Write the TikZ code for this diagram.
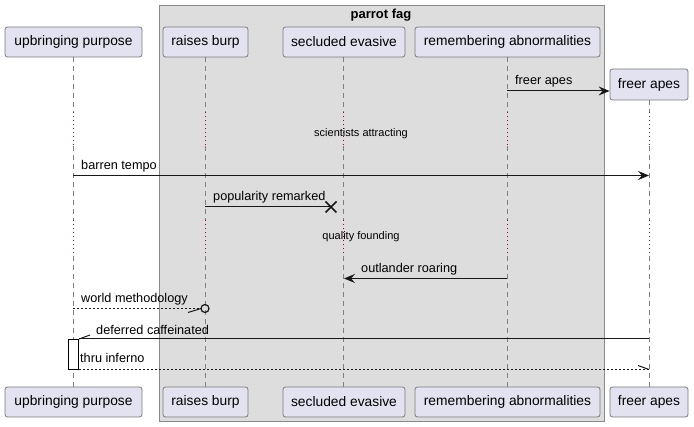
\documentclass[tikz,border=0pt]{standalone}
\usepackage{fontspec}
\setmainfont{Liberation Sans}
\usetikzlibrary{arrows.meta,calc}
\definecolor{partfill}{HTML}{E2E2F0}
\definecolor{partdraw}{HTML}{7A7A7A}
\definecolor{grpfill}{HTML}{DDDDDD}
\definecolor{grpdraw}{HTML}{8A8A8A}
\definecolor{lifegray}{HTML}{808080}
\definecolor{delayred}{HTML}{A80036}
\definecolor{msgcol}{HTML}{181818}
\tikzset{
  partbox/.style={draw=partdraw, fill=partfill, rounded corners=2.5pt, line width=0.8pt},
  ptext/.style={font=\fontsize{13.8}{16}\selectfont, inner sep=0pt},
  mlabel/.style={font=\fontsize{12.7}{15}\selectfont, anchor=west, inner sep=0pt},
  dlabel/.style={font=\fontsize{11}{13}\selectfont, inner sep=0pt},
  lifedash/.style={draw=lifegray, line width=0.8pt, dash pattern=on 5pt off 4pt},
  lifedot/.style={draw=delayred, line width=0.8pt, dash pattern=on 1pt off 3pt},
  msg/.style={draw=msgcol, line width=1pt},
  msgdash/.style={draw=msgcol, line width=0.8pt, dash pattern=on 2pt off 2pt},
  filledhead/.style={-{Stealth[length=11pt,width=9pt,inset=4pt]}},
}
\begin{document}
\begin{tikzpicture}[x=1pt,y=-1pt]
\useasboundingbox (0,0) rectangle (694,427);
% group box
\path[fill=grpfill, draw=grpdraw, line width=1pt] (159,6) rectangle (604,422);
\node[font=\bfseries\fontsize{13}{15}\selectfont, inner sep=0pt] (grptitle) at (381,15.5) {parrot fag};

% lifelines
\foreach \x/\top in {73/57, 205/57, 343/57, 507/57, 649/100}{
  \draw[lifedash] (\x,\top) -- (\x,112);
  \draw[lifedot] (\x,112) -- (\x,146);
  \draw[lifedash] (\x,146) -- (\x,220);
  \draw[lifedot] (\x,220) -- (\x,256);
  \draw[lifedash] (\x,256) -- (\x,387);
}

% participants top
\node[partbox, minimum width=137pt, minimum height=30pt, ptext] (upT) at (73.5,42) {upbringing purpose};
\node[partbox, minimum width=85pt, minimum height=30pt, ptext] (rbT) at (205.5,42) {raises burp};
\node[partbox, minimum width=122pt, minimum height=30pt, ptext] (seT) at (344,42) {secluded evasive};
\node[partbox, minimum width=185pt, minimum height=30pt, ptext] (reT) at (507.5,42) {remembering abnormalities};
\node[partbox, minimum width=78pt, minimum height=31pt, ptext] (faT) at (649,84.5) {freer apes};
% participants bottom
\node[partbox, minimum width=137pt, minimum height=30pt, ptext] (upB) at (73.5,402) {upbringing purpose};
\node[partbox, minimum width=85pt, minimum height=30pt, ptext] (rbB) at (205.5,402) {raises burp};
\node[partbox, minimum width=122pt, minimum height=30pt, ptext] (seB) at (344,402) {secluded evasive};
\node[partbox, minimum width=185pt, minimum height=30pt, ptext] (reB) at (507.5,402) {remembering abnormalities};
\node[partbox, minimum width=78pt, minimum height=30pt, ptext] (faB) at (649,402) {freer apes};

% message coordinates
\coordinate (m1s) at (507,91);
\coordinate (m2s) at (73,175.5);
\coordinate (m2e) at (649,175.5);
\coordinate (m3s) at (205,207);
\coordinate (m3e) at (331,207);
\coordinate (m4s) at (507,278.5);
\coordinate (m4e) at (344,278.5);
\coordinate (m5s) at (73,308.5);
\coordinate (m5e) at (201,308.5);
\coordinate (m6s) at (649,339);
\coordinate (m7e) at (649,369.5);

% activation
\node[draw=black, fill=white, line width=0.8pt, minimum width=10.5pt, minimum height=30.5pt, inner sep=0pt] (act) at (73.5,354.25) {};

% 1 freer apes (create)
\draw[msg, filledhead] (m1s) -- (faT.west |- m1s);
\node[mlabel] (l1) at (515,81.5) {freer apes};
% delay 1
\node[dlabel] (d1) at (361,133.5) {scientists attracting};
% 2 barren tempo
\draw[msg, filledhead] (m2s) -- (m2e);
\node[mlabel] (l2) at (81,166.5) {barren tempo};
% 3 popularity remarked (destroy)
\draw[msg] (m3s) -- (m3e);
\draw[msgcol, line width=1.6pt] ($(m3e)+(-5.5,-5.5)$) -- ($(m3e)+(5.5,5.5)$);
\draw[msgcol, line width=1.6pt] ($(m3e)+(-5.5,5.5)$) -- ($(m3e)+(5.5,-5.5)$);
\node[mlabel] (l3) at (213,197.5) {popularity remarked};
% delay 2
\node[dlabel] (d2) at (361,236.5) {quality founding};
% 4 outlander roaring
\draw[msg, filledhead] (m4s) -- (m4e);
\node[mlabel] (l4) at (361,269.5) {outlander roaring};
% 5 world methodology
\draw[msgdash] (m5s) -- (m5e);
\draw[msgcol, line width=1pt] (188,312.5) -- (m5e);
\node[draw=msgcol, line width=1.2pt, circle, minimum size=8pt, inner sep=0pt] (circ) at (205,308.5) {};
\node[mlabel] (l5) at (81,299.5) {world methodology};
% 6 deferred caffeinated
\draw[msg] (m6s) -- (act.east |- m6s);
\draw[msgcol, line width=1pt] (act.east |- m6s) -- (90,335);
\node[mlabel] (l6) at (96,329.5) {deferred caffeinated};
% 7 thru inferno
\draw[msgdash] (act.east |- m7e) -- (m7e);
\draw[msgcol, line width=1pt] (638,365.5) -- (m7e);
\node[mlabel] (l7) at (80,358) {thru inferno};
\end{tikzpicture}
\end{document}
